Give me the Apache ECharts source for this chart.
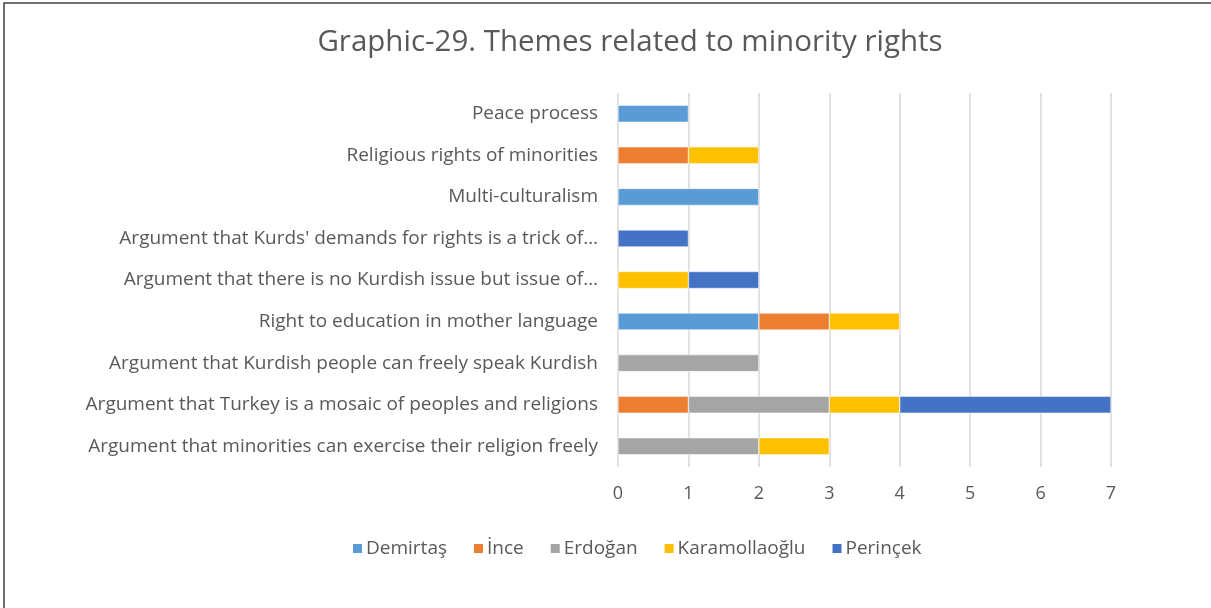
<!DOCTYPE html>
<html><head><meta charset="utf-8">
<script src="https://cdn.jsdelivr.net/npm/echarts@6/dist/echarts.min.js"></script>
<style>html,body{margin:0;padding:0;background:#fff}#c{width:1211px;height:608px}</style>
</head><body><div id="c"></div>
<script>
const categories = [
  "Argument that minorities can exercise their religion freely",
  "Argument that Turkey is a mosaic of peoples and religions",
  "Argument that Kurdish people can freely speak Kurdish",
  "Right to education in mother language",
  "Argument that there is no Kurdish issue but issue of…",
  "Argument that Kurds' demands for rights is a trick of…",
  "Multi-culturalism",
  "Religious rights of minorities",
  "Peace process"
];
const seriesNames = ["Demirtaş", "İnce", "Erdoğan", "Karamollaoğlu", "Perinçek"];
const demirtas      = [0, 0, 0, 2, 0, 0, 2, 0, 1];
const ince          = [0, 1, 0, 1, 0, 0, 0, 1, 0];
const erdogan       = [2, 2, 2, 0, 0, 0, 0, 0, 0];
const karamollaoglu = [1, 1, 0, 1, 1, 0, 0, 1, 0];
const perincek      = [0, 3, 0, 0, 1, 1, 0, 0, 0];
const xTicks = [0, 1, 2, 3, 4, 5, 6, 7];
const colors = ["#5B9BD5", "#ED7D31", "#A5A5A5", "#FFC000", "#4472C4"];
const values = [demirtas, ince, erdogan, karamollaoglu, perincek];

const font = "'Open Sans', sans-serif";
const chart = echarts.init(document.getElementById('c'));
chart.setOption({
  animation: false,
  color: colors,
  title: {
    text: "Graphic-29. Themes related to minority rights",
    top: 23, left: 625, textAlign: 'center',
    textStyle: {fontFamily: font, fontSize: 29.5, fontWeight: 'normal', color: '#595959'}
  },
  legend: {
    bottom: 45, left: 346,
    icon: 'rect', itemWidth: 11, itemHeight: 11, itemGap: 25,
    textStyle: {fontFamily: font, fontSize: 19, color: '#595959', padding: [0,0,0,-2]},
    data: seriesNames
  },
  grid: {left: 618, right: 100, top: 93, bottom: 141, containLabel: false},
  xAxis: {
    type: 'value', min: xTicks[0], max: xTicks[xTicks.length-1], interval: 1,
    axisLine: {show: false}, axisTick: {show: false},
    splitLine: {lineStyle: {color: '#d9d9d9', width: 1.5}},
    axisLabel: {fontFamily: font, fontSize: 18, color: '#595959', margin: 18}
  },
  yAxis: {
    type: 'category', data: categories,
    axisLine: {show: false}, axisTick: {show: false},
    axisLabel: {fontFamily: font, fontSize: 19, color: '#595959', margin: 20}
  },
  graphic: [{
    type: 'rect', shape: {x: 4, y: 3, width: 1300, height: 700},
    style: {fill: 'none', stroke: '#404040', lineWidth: 1.5}, silent: true
  }],
  series: seriesNames.map((n, i) => ({
    name: n, type: 'bar', stack: 'total', barWidth: 17,
    itemStyle: {color: colors[i], borderColor: '#fff', borderWidth: 0.5},
    data: values[i].map(v => v === 0 ? null : v)
  }))
});
</script></body></html>
